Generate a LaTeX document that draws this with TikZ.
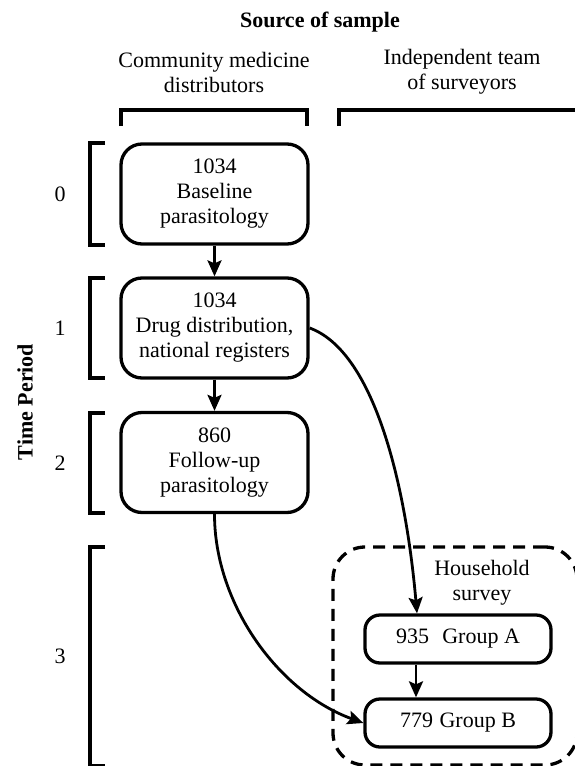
\documentclass[tikz,border=0pt]{standalone}
\usepackage{fontspec}
\setmainfont{Liberation Serif}
\usetikzlibrary{arrows.meta}

\begin{document}
\begin{tikzpicture}[x=1pt,y=-1pt,
		every node/.style={font=\fontsize{22}{25}\selectfont,align=center},
		stage node/.style={rectangle,draw,line width=3.3pt,rounded corners=21pt,minimum width=187pt,minimum height=100pt,inner sep=0pt},
		group node/.style={rectangle,draw,line width=3.3pt,rounded corners=15pt,minimum width=186pt,minimum height=48pt,inner sep=0pt},
		survey box/.style={rectangle,draw,line width=3.3pt,dash pattern=on 12pt off 8pt,rounded corners=32pt,minimum width=244pt,minimum height=218pt},
		flow/.style={-{Stealth[length=16pt,width=14pt,inset=3pt]},line width=2.8pt},
		bracket/.style={line width=4.3pt}]
	\useasboundingbox (0,0) rectangle (574,766);

	% headings
	\node[font=\bfseries\fontsize{22}{25}\selectfont] (title) at (320,22) {Source of sample};
	\node (cmd) at (214,72) {Community medicine\\distributors};
	\node (team) at (462,72) {Independent team\\of surveyors};
	\node[rotate=90,font=\bfseries\fontsize{22}{25}\selectfont] (axis) at (25,402) {Time Period};

	% column brackets
	\draw[bracket] (121,126) |- (307,110) -- (307,126);
	\draw[bracket] (339,126) |- (580,110);

	% period brackets
	\foreach \t/\a/\b in {0/143/245,1/278/378,2/413/513,3/547/766}{
		\draw[bracket] (105,\a) -| (90,\b) -- (105,\b);
		\node (p\t) at (60,{(\a+\b)/2}) {\t};
	}

	% boxes
	\node[stage node] (base) at (214.5,194) {1034\\Baseline\\parasitology};
	\node[stage node] (drug) at (214.5,328) {1034\\Drug distribution,\\national registers};
	\node[stage node] (follow) at (214.5,462.5) {860\\Follow-up\\parasitology};
	\node[survey box] (house) at (455,656) {};
	\node (houselabel) at (482,583) {Household\\survey};
	\node[group node] (groupA) at (458,639) {935\hspace{0.6em}Group A};
	\node[group node] (groupB) at (458,723) {779\hspace{0.3em}Group B};

	\path[flow]
		(base) edge (drug)
		(drug) edge (follow)
		(drug.east) edge[out=-20,in=95,out distance=67pt,in distance=135pt] ([xshift=-41pt]groupA.north)
		([xshift=-42pt]groupA.south) edge ([xshift=-42pt]groupB.north)
		(follow.south) edge[out=-90,in=160,looseness=0.9] (groupB.west);
\end{tikzpicture}
\end{document}
